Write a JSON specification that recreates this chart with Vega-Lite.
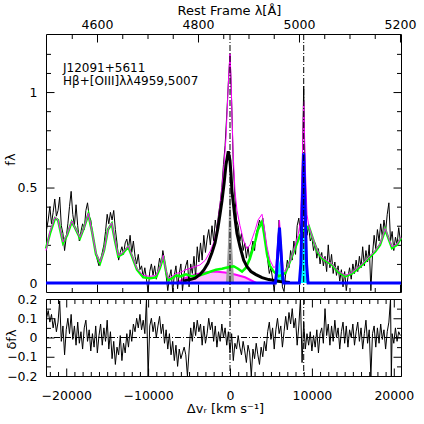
{
  "$schema": "https://vega.github.io/schema/vega-lite/v6.json",
  "background": "white",
  "padding": {"left": 3, "top": 4, "right": 0, "bottom": 0},
  "spacing": 7,
  "bounds": "flush",
  "config": {
    "view": {"stroke": "black", "strokeWidth": 1},
    "axis": {"domain": false, "grid": false, "labelFont": "DejaVu Sans", "labelFontSize": 12.5, "labelColor": "black", "titleFont": "DejaVu Sans", "titleFontSize": 13, "titleFontWeight": "normal", "titleColor": "black", "tickColor": "black", "tickWidth": 1, "tickRound": false, "labelFlush": false, "labelOverlap": false, "labelBound": false}
  },
  "datasets": {
    "spec": [
      {"v":-22400,"f":0.28},{"v":-22200,"f":0.33},{"v":-22000,"f":0.40},{"v":-21800,"f":0.31},{"v":-21600,"f":0.37},{"v":-21400,"f":0.44},{"v":-21200,"f":0.35},{"v":-21000,"f":0.38},{"v":-20800,"f":0.45},{"v":-20600,"f":0.30},{"v":-20400,"f":0.26},{"v":-20200,"f":0.17},{"v":-20000,"f":0.24},{"v":-19800,"f":0.31},{"v":-19600,"f":0.40},{"v":-19400,"f":0.48},{"v":-19200,"f":0.36},{"v":-19000,"f":0.30},{"v":-18800,"f":0.41},{"v":-18600,"f":0.30},{"v":-18400,"f":0.22},{"v":-18200,"f":0.27},{"v":-18000,"f":0.31},{"v":-17800,"f":0.28},{"v":-17600,"f":0.38},{"v":-17400,"f":0.42},{"v":-17200,"f":0.35},{"v":-17000,"f":0.33},{"v":-16800,"f":0.26},{"v":-16600,"f":0.21},{"v":-16400,"f":0.16},{"v":-16200,"f":0.12},{"v":-16000,"f":0.09},{"v":-15800,"f":0.12},{"v":-15600,"f":0.16},{"v":-15400,"f":0.20},{"v":-15200,"f":0.27},{"v":-15000,"f":0.36},{"v":-14800,"f":0.31},{"v":-14600,"f":0.37},{"v":-14400,"f":0.33},{"v":-14200,"f":0.38},{"v":-14000,"f":0.28},{"v":-13800,"f":0.21},{"v":-13600,"f":0.12},{"v":-13400,"f":0.16},{"v":-13200,"f":0.19},{"v":-13000,"f":0.15},{"v":-12800,"f":0.21},{"v":-12600,"f":0.23},{"v":-12400,"f":0.18},{"v":-12200,"f":0.25},{"v":-12000,"f":0.16},{"v":-11800,"f":0.22},{"v":-11600,"f":0.14},{"v":-11400,"f":0.10},{"v":-11200,"f":0.15},{"v":-11000,"f":0.07},{"v":-10800,"f":0.09},{"v":-10600,"f":0.03},{"v":-10400,"f":0.08},{"v":-10200,"f":0.02},{"v":-10000,"f":-0.046},{"v":-9800,"f":0.06},{"v":-9600,"f":0.10},{"v":-9400,"f":0.04},{"v":-9200,"f":0.09},{"v":-9000,"f":0.02},{"v":-8800,"f":0.07},{"v":-8600,"f":0.13},{"v":-8400,"f":0.09},{"v":-8200,"f":0.17},{"v":-8000,"f":0.12},{"v":-7800,"f":0.04},{"v":-7600,"f":-0.04},{"v":-7400,"f":0.03},{"v":-7200,"f":0.07},{"v":-7000,"f":-0.045},{"v":-6800,"f":0.04},{"v":-6600,"f":0.09},{"v":-6400,"f":-0.03},{"v":-6200,"f":0.05},{"v":-6000,"f":0.10},{"v":-5800,"f":-0.04},{"v":-5600,"f":0.05},{"v":-5400,"f":0.09},{"v":-5200,"f":0.12},{"v":-5000,"f":-0.02},{"v":-4800,"f":0.10},{"v":-4600,"f":0.05},{"v":-4400,"f":0.14},{"v":-4200,"f":0.03},{"v":-4000,"f":0.19},{"v":-3800,"f":0.11},{"v":-3600,"f":0.21},{"v":-3400,"f":0.12},{"v":-3200,"f":0.25},{"v":-3000,"f":0.16},{"v":-2800,"f":0.23},{"v":-2600,"f":0.28},{"v":-2400,"f":0.20},{"v":-2200,"f":0.30},{"v":-2000,"f":0.22},{"v":-1800,"f":0.33},{"v":-1600,"f":0.27},{"v":-1400,"f":0.36},{"v":-1200,"f":0.42},{"v":-1000,"f":0.50},{"v":-800,"f":0.62},{"v":-600,"f":0.72},{"v":-400,"f":0.88},{"v":-200,"f":1.05},{"v":0,"f":1.20},{"v":200,"f":0.95},{"v":400,"f":0.62},{"v":600,"f":0.45},{"v":800,"f":0.33},{"v":1000,"f":0.30},{"v":1200,"f":0.22},{"v":1400,"f":0.26},{"v":1600,"f":0.17},{"v":1800,"f":0.21},{"v":2000,"f":0.13},{"v":2200,"f":0.19},{"v":2400,"f":0.12},{"v":2600,"f":0.17},{"v":2800,"f":0.22},{"v":3000,"f":0.17},{"v":3200,"f":0.26},{"v":3400,"f":0.29},{"v":3600,"f":0.33},{"v":3800,"f":0.30},{"v":4000,"f":0.34},{"v":4200,"f":0.28},{"v":4400,"f":0.20},{"v":4600,"f":0.12},{"v":4800,"f":0.05},{"v":5000,"f":0.08},{"v":5200,"f":0.02},{"v":5400,"f":-0.04},{"v":5600,"f":0.05},{"v":5800,"f":0.18},{"v":6000,"f":0.33},{"v":6200,"f":0.15},{"v":6400,"f":-0.02},{"v":6600,"f":-0.045},{"v":6800,"f":0.05},{"v":7000,"f":0.12},{"v":7200,"f":0.08},{"v":7400,"f":0.17},{"v":7600,"f":0.12},{"v":7800,"f":0.22},{"v":8000,"f":0.15},{"v":8200,"f":0.30},{"v":8400,"f":0.34},{"v":8600,"f":0.26},{"v":8800,"f":0.55},{"v":9000,"f":1.03},{"v":9200,"f":0.42},{"v":9400,"f":0.25},{"v":9600,"f":0.30},{"v":9800,"f":0.22},{"v":10000,"f":0.24},{"v":10200,"f":0.17},{"v":10400,"f":0.21},{"v":10600,"f":0.13},{"v":10800,"f":0.18},{"v":11000,"f":0.10},{"v":11200,"f":0.16},{"v":11400,"f":0.09},{"v":11600,"f":0.14},{"v":11800,"f":0.06},{"v":12000,"f":0.20},{"v":12200,"f":0.08},{"v":12400,"f":0.15},{"v":12600,"f":0.05},{"v":12800,"f":0.11},{"v":13000,"f":0.04},{"v":13200,"f":0.09},{"v":13400,"f":0.01},{"v":13600,"f":0.07},{"v":13800,"f":-0.02},{"v":14000,"f":0.06},{"v":14200,"f":-0.04},{"v":14400,"f":0.03},{"v":14600,"f":0.08},{"v":14800,"f":0.02},{"v":15000,"f":0.10},{"v":15200,"f":0.05},{"v":15400,"f":0.12},{"v":15600,"f":0.06},{"v":15800,"f":0.14},{"v":16000,"f":0.08},{"v":16200,"f":0.19},{"v":16400,"f":0.09},{"v":16600,"f":0.17},{"v":16800,"f":0.11},{"v":17000,"f":0.20},{"v":17200,"f":-0.04},{"v":17400,"f":0.15},{"v":17600,"f":0.25},{"v":17800,"f":0.18},{"v":18000,"f":0.28},{"v":18200,"f":0.22},{"v":18400,"f":0.31},{"v":18600,"f":0.24},{"v":18800,"f":0.33},{"v":19000,"f":0.27},{"v":19200,"f":0.36},{"v":19400,"f":0.42},{"v":19600,"f":0.22},{"v":19800,"f":0.27},{"v":20000,"f":0.17},{"v":20200,"f":0.24},{"v":20400,"f":0.20},{"v":20600,"f":0.29},{"v":20800,"f":0.22}
    ],
    "green": [
      {"v":-22470,"f":0.18},{"v":-21980,"f":0.26},{"v":-21370,"f":0.34},{"v":-21000,"f":0.33},{"v":-20390,"f":0.21},{"v":-19900,"f":0.25},{"v":-19330,"f":0.32},{"v":-18930,"f":0.29},{"v":-18320,"f":0.235},{"v":-17830,"f":0.29},{"v":-17300,"f":0.36},{"v":-16850,"f":0.27},{"v":-16360,"f":0.15},{"v":-15870,"f":0.105},{"v":-15390,"f":0.17},{"v":-14900,"f":0.28},{"v":-14440,"f":0.31},{"v":-14040,"f":0.22},{"v":-13640,"f":0.14},{"v":-13190,"f":0.15},{"v":-12420,"f":0.19},{"v":-11970,"f":0.14},{"v":-11360,"f":0.07},{"v":-10590,"f":0.03},{"v":-9770,"f":0.025},{"v":-9040,"f":0.03},{"v":-8550,"f":0.08},{"v":-8140,"f":0.14},{"v":-7810,"f":0.06},{"v":-7530,"f":0.015},{"v":-7080,"f":0.025},{"v":-6590,"f":0.04},{"v":-6100,"f":0.035},{"v":-5370,"f":0.045},{"v":-4640,"f":0.035},{"v":-3660,"f":0.04},{"v":-2690,"f":0.055},{"v":-1710,"f":0.07},{"v":-980,"f":0.075},{"v":-490,"f":0.08},{"v":450,"f":0.088},{"v":980,"f":0.075},{"v":1470,"f":0.06},{"v":1950,"f":0.08},{"v":2440,"f":0.13},{"v":3090,"f":0.22},{"v":3420,"f":0.28},{"v":3910,"f":0.32},{"v":4150,"f":0.26},{"v":4520,"f":0.15},{"v":4880,"f":0.09},{"v":5340,"f":0.06},{"v":5950,"f":0.035},{"v":6750,"f":0.052},{"v":7200,"f":0.10},{"v":7780,"f":0.165},{"v":8580,"f":0.253},{"v":9160,"f":0.28},{"v":9610,"f":0.297},{"v":10220,"f":0.218},{"v":10750,"f":0.16},{"v":11230,"f":0.13},{"v":12450,"f":0.096},{"v":13190,"f":0.06},{"v":14080,"f":0.035},{"v":14900,"f":0.05},{"v":15710,"f":0.079},{"v":16240,"f":0.10},{"v":16940,"f":0.13},{"v":17740,"f":0.165},{"v":18320,"f":0.20},{"v":18960,"f":0.28},{"v":19290,"f":0.24},{"v":19780,"f":0.183},{"v":20390,"f":0.20},{"v":20880,"f":0.236}
    ],
    "total": [
      {"v":-22470,"f":0.17},{"v":-21980,"f":0.27},{"v":-21370,"f":0.345},{"v":-21000,"f":0.33},{"v":-20390,"f":0.215},{"v":-19900,"f":0.255},{"v":-19330,"f":0.325},{"v":-18930,"f":0.29},{"v":-18320,"f":0.24},{"v":-17830,"f":0.29},{"v":-17300,"f":0.365},{"v":-16850,"f":0.27},{"v":-16360,"f":0.155},{"v":-15870,"f":0.11},{"v":-15390,"f":0.17},{"v":-14900,"f":0.28},{"v":-14440,"f":0.315},{"v":-14040,"f":0.225},{"v":-13640,"f":0.145},{"v":-13190,"f":0.155},{"v":-12420,"f":0.195},{"v":-11970,"f":0.145},{"v":-11360,"f":0.075},{"v":-10590,"f":0.04},{"v":-9770,"f":0.035},{"v":-9040,"f":0.04},{"v":-8550,"f":0.085},{"v":-8140,"f":0.145},{"v":-7810,"f":0.065},{"v":-7530,"f":0.025},{"v":-7080,"f":0.035},{"v":-6590,"f":0.05},{"v":-6100,"f":0.055},{"v":-5370,"f":0.07},{"v":-4640,"f":0.08},{"v":-3660,"f":0.095},{"v":-3000,"f":0.12},{"v":-2440,"f":0.165},{"v":-2000,"f":0.21},{"v":-1710,"f":0.26},{"v":-1470,"f":0.32},{"v":-1220,"f":0.41},{"v":-980,"f":0.50},{"v":-730,"f":0.62},{"v":-490,"f":0.76},{"v":-250,"f":1.0},{"v":-120,"f":1.12},{"v":0,"f":1.2},{"v":120,"f":1.08},{"v":240,"f":0.88},{"v":400,"f":0.66},{"v":610,"f":0.48},{"v":850,"f":0.38},{"v":1220,"f":0.30},{"v":1670,"f":0.22},{"v":2080,"f":0.18},{"v":2440,"f":0.2},{"v":3090,"f":0.28},{"v":3420,"f":0.33},{"v":3910,"f":0.36},{"v":4150,"f":0.30},{"v":4520,"f":0.19},{"v":4880,"f":0.12},{"v":5340,"f":0.08},{"v":5600,"f":0.09},{"v":5800,"f":0.2},{"v":6040,"f":0.33},{"v":6250,"f":0.2},{"v":6500,"f":0.07},{"v":6750,"f":0.06},{"v":7200,"f":0.1},{"v":7780,"f":0.17},{"v":8300,"f":0.25},{"v":8600,"f":0.32},{"v":8800,"f":0.6},{"v":9000,"f":0.95},{"v":9200,"f":0.6},{"v":9400,"f":0.36},{"v":9610,"f":0.30},{"v":10220,"f":0.22},{"v":10750,"f":0.165},{"v":11230,"f":0.135},{"v":12450,"f":0.1},{"v":13190,"f":0.065},{"v":14080,"f":0.04},{"v":14900,"f":0.055},{"v":15710,"f":0.085},{"v":16240,"f":0.105},{"v":16940,"f":0.135},{"v":17740,"f":0.17},{"v":18320,"f":0.205},{"v":18960,"f":0.285},{"v":19290,"f":0.245},{"v":19780,"f":0.19},{"v":20390,"f":0.205},{"v":20880,"f":0.24}
    ],
    "broad": [
      {"v":-5740,"f":0.01},{"v":-4880,"f":0.018},{"v":-4270,"f":0.025},{"v":-3660,"f":0.045},{"v":-3170,"f":0.07},{"v":-2690,"f":0.105},{"v":-2200,"f":0.16},{"v":-1830,"f":0.21},{"v":-1470,"f":0.29},{"v":-1220,"f":0.36},{"v":-980,"f":0.43},{"v":-730,"f":0.52},{"v":-490,"f":0.62},{"v":-210,"f":0.69},{"v":0,"f":0.64},{"v":120,"f":0.57},{"v":240,"f":0.48},{"v":400,"f":0.42},{"v":610,"f":0.34},{"v":850,"f":0.26},{"v":1220,"f":0.19},{"v":1670,"f":0.12},{"v":2080,"f":0.085},{"v":2560,"f":0.06},{"v":3170,"f":0.044},{"v":3910,"f":0.028},{"v":4730,"f":0.018},{"v":6100,"f":0.008},{"v":7300,"f":0.003}
    ],
    "hump": [
      {"v":-6510,"f":0},{"v":-5500,"f":0.025},{"v":-4270,"f":0.045},{"v":-3050,"f":0.055},{"v":-1830,"f":0.06},{"v":-610,"f":0.055},{"v":610,"f":0.045},{"v":1830,"f":0.03},{"v":3260,"f":0}
    ],
    "narrow": [
      {"v":-500,"f":0},{"v":-250,"f":0.2},{"v":0,"f":0.55},{"v":250,"f":0.2},{"v":500,"f":0}
    ],
    "blue": [
      {"v":-22470,"f":0},{"v":5540,"f":0},{"v":5700,"f":0.06},{"v":5870,"f":0.18},{"v":6040,"f":0.29},{"v":6210,"f":0.18},{"v":6380,"f":0.06},{"v":6540,"f":0},{"v":8470,"f":0},{"v":8650,"f":0.1},{"v":8830,"f":0.4},{"v":9000,"f":0.68},{"v":9170,"f":0.4},{"v":9350,"f":0.1},{"v":9530,"f":0},{"v":20880,"f":0}
    ],
    "cyan": [
      {"v":5650,"f":0,"comp":"a"},{"v":5880,"f":0.07,"comp":"a"},{"v":6040,"f":0.12,"comp":"a"},{"v":6200,"f":0.07,"comp":"a"},{"v":6430,"f":0,"comp":"a"},
      {"v":8560,"f":0,"comp":"b"},{"v":8800,"f":0.15,"comp":"b"},{"v":9000,"f":0.3,"comp":"b"},{"v":9200,"f":0.15,"comp":"b"},{"v":9440,"f":0,"comp":"b"}
    ],
    "resid": [
      {"v":-22400,"d":0.10},{"v":-22200,"d":0.14},{"v":-22000,"d":0.08},{"v":-21800,"d":0.12},{"v":-21600,"d":0.05},{"v":-21400,"d":0.10},{"v":-21200,"d":0.03},{"v":-21000,"d":0.08},{"v":-20800,"d":0.19},{"v":-20600,"d":-0.02},{"v":-20400,"d":0.06},{"v":-20200,"d":-0.09},{"v":-20000,"d":0.04},{"v":-19800,"d":0.10},{"v":-19600,"d":0.02},{"v":-19400,"d":0.12},{"v":-19200,"d":-0.01},{"v":-19000,"d":0.06},{"v":-18800,"d":-0.04},{"v":-18600,"d":0.08},{"v":-18400,"d":-0.03},{"v":-18200,"d":0.03},{"v":-18000,"d":-0.06},{"v":-17800,"d":0.05},{"v":-17600,"d":0.09},{"v":-17400,"d":-0.02},{"v":-17200,"d":0.04},{"v":-17000,"d":-0.07},{"v":-16800,"d":0.02},{"v":-16600,"d":-0.05},{"v":-16400,"d":0.06},{"v":-16200,"d":-0.08},{"v":-16000,"d":0.01},{"v":-15800,"d":0.07},{"v":-15600,"d":-0.04},{"v":-15400,"d":0.05},{"v":-15200,"d":-0.02},{"v":-15000,"d":0.09},{"v":-14800,"d":-0.06},{"v":-14600,"d":0.03},{"v":-14400,"d":-0.11},{"v":-14200,"d":-0.02},{"v":-14000,"d":-0.14},{"v":-13800,"d":-0.05},{"v":-13600,"d":-0.09},{"v":-13400,"d":0.01},{"v":-13200,"d":-0.12},{"v":-13000,"d":-0.03},{"v":-12800,"d":-0.08},{"v":-12600,"d":0.02},{"v":-12400,"d":-0.05},{"v":-12200,"d":0.04},{"v":-12000,"d":-0.02},{"v":-11800,"d":0.07},{"v":-11600,"d":0.03},{"v":-11400,"d":0.10},{"v":-11200,"d":0.05},{"v":-11000,"d":0.12},{"v":-10800,"d":0.04},{"v":-10600,"d":0.09},{"v":-10400,"d":0.02},{"v":-10200,"d":0.2},{"v":-10000,"d":-0.2},{"v":-9800,"d":0.06},{"v":-9600,"d":0.10},{"v":-9400,"d":0.03},{"v":-9200,"d":0.08},{"v":-9000,"d":0.0},{"v":-8800,"d":0.06},{"v":-8600,"d":0.11},{"v":-8400,"d":0.02},{"v":-8200,"d":0.07},{"v":-8000,"d":-0.03},{"v":-7800,"d":0.04},{"v":-7600,"d":-0.06},{"v":-7400,"d":0.02},{"v":-7200,"d":-0.09},{"v":-7000,"d":-0.02},{"v":-6800,"d":-0.12},{"v":-6600,"d":-0.04},{"v":-6400,"d":-0.15},{"v":-6200,"d":-0.06},{"v":-6000,"d":-0.11},{"v":-5800,"d":-0.08},{"v":-5600,"d":-0.05},{"v":-5400,"d":-0.09},{"v":-5200,"d":-0.2},{"v":-5000,"d":-0.07},{"v":-4800,"d":0.05},{"v":-4600,"d":-0.02},{"v":-4400,"d":0.08},{"v":-4200,"d":0.01},{"v":-4000,"d":0.09},{"v":-3800,"d":0.03},{"v":-3600,"d":0.07},{"v":-3400,"d":-0.04},{"v":-3200,"d":0.06},{"v":-3000,"d":-0.03},{"v":-2800,"d":0.02},{"v":-2600,"d":0.10},{"v":-2400,"d":0.04},{"v":-2200,"d":0.08},{"v":-2000,"d":-0.02},{"v":-1800,"d":0.06},{"v":-1600,"d":-0.05},{"v":-1400,"d":0.03},{"v":-1200,"d":-0.02},{"v":-1000,"d":0.07},{"v":-800,"d":0.0},{"v":-600,"d":0.05},{"v":-400,"d":-0.04},{"v":-200,"d":0.03},{"v":0,"d":-0.08},{"v":200,"d":0.02},{"v":400,"d":-0.12},{"v":600,"d":-0.03},{"v":800,"d":-0.06},{"v":1000,"d":0.01},{"v":1200,"d":-0.05},{"v":1400,"d":-0.09},{"v":1600,"d":-0.02},{"v":1800,"d":-0.07},{"v":2000,"d":-0.13},{"v":2200,"d":-0.04},{"v":2400,"d":-0.08},{"v":2600,"d":-0.2},{"v":2800,"d":-0.06},{"v":3000,"d":-0.11},{"v":3200,"d":-0.03},{"v":3400,"d":-0.09},{"v":3600,"d":-0.14},{"v":3800,"d":-0.05},{"v":4000,"d":-0.10},{"v":4200,"d":-0.02},{"v":4400,"d":-0.07},{"v":4600,"d":0.03},{"v":4800,"d":0.08},{"v":5000,"d":-0.01},{"v":5200,"d":0.05},{"v":5400,"d":-0.06},{"v":5600,"d":0.04},{"v":5800,"d":0.10},{"v":6000,"d":0.02},{"v":6200,"d":0.06},{"v":6400,"d":-0.05},{"v":6600,"d":0.03},{"v":6800,"d":0.11},{"v":7000,"d":0.04},{"v":7200,"d":0.13},{"v":7400,"d":0.07},{"v":7600,"d":0.15},{"v":7800,"d":0.05},{"v":8000,"d":0.10},{"v":8200,"d":-0.04},{"v":8400,"d":0.06},{"v":8600,"d":0.2},{"v":8800,"d":-0.13},{"v":9000,"d":0.08},{"v":9200,"d":-0.06},{"v":9400,"d":0.02},{"v":9600,"d":-0.04},{"v":9800,"d":0.03},{"v":10000,"d":-0.07},{"v":10200,"d":0.01},{"v":10400,"d":-0.05},{"v":10600,"d":0.04},{"v":10800,"d":-0.08},{"v":11000,"d":0.02},{"v":11200,"d":0.05},{"v":11400,"d":-0.03},{"v":11600,"d":0.15},{"v":11800,"d":0.01},{"v":12000,"d":0.07},{"v":12200,"d":-0.04},{"v":12400,"d":0.06},{"v":12600,"d":-0.02},{"v":12800,"d":0.09},{"v":13000,"d":0.0},{"v":13200,"d":0.05},{"v":13400,"d":-0.06},{"v":13600,"d":0.03},{"v":13800,"d":0.08},{"v":14000,"d":-0.03},{"v":14200,"d":0.06},{"v":14400,"d":-0.05},{"v":14600,"d":0.04},{"v":14800,"d":0.0},{"v":15000,"d":0.07},{"v":15200,"d":-0.04},{"v":15400,"d":0.03},{"v":15600,"d":0.08},{"v":15800,"d":-0.02},{"v":16000,"d":0.05},{"v":16200,"d":-0.06},{"v":16400,"d":0.02},{"v":16600,"d":0.09},{"v":16800,"d":-0.03},{"v":17000,"d":0.04},{"v":17200,"d":-0.2},{"v":17400,"d":0.02},{"v":17600,"d":0.06},{"v":17800,"d":-0.05},{"v":18000,"d":0.05},{"v":18200,"d":-0.03},{"v":18400,"d":0.07},{"v":18600,"d":-0.01},{"v":18800,"d":0.04},{"v":19000,"d":-0.06},{"v":19200,"d":0.03},{"v":19400,"d":0.08},{"v":19600,"d":0.2},{"v":19700,"d":-0.2},{"v":19800,"d":0.02},{"v":20000,"d":-0.03},{"v":20200,"d":0.05},{"v":20400,"d":-0.02},{"v":20600,"d":0.03},{"v":20800,"d":0.01}
    ]
  },
  "vconcat": [
    {
      "width": 355,
      "height": 258,
      "layer": [
        {
          "layer": [
            {"data": {"name": "hump"}, "mark": {"type": "area", "color": "#ff66ff", "opacity": 0.45},
              "encoding": {"x": {"field": "v", "type": "quantitative", "scale": {"domain": [-22470, 20880], "nice": false, "zero": false}, "axis": null},
                "y": {"field": "f", "type": "quantitative", "scale": {"domain": [-0.047, 1.304], "nice": false, "zero": false}, "axis": null},
                "y2": {"datum": 0}}},
            {"data": {"name": "hump"}, "mark": {"type": "line", "color": "#ff00ff", "strokeWidth": 2}, "encoding": {"x": {"field": "v", "type": "quantitative", "axis": null}, "y": {"field": "f", "type": "quantitative", "axis": null}}},
            {"data": {"name": "narrow"}, "mark": {"type": "area", "color": "#a0a0a0"}, "encoding": {"x": {"field": "v", "type": "quantitative", "axis": null}, "y": {"field": "f", "type": "quantitative", "axis": null}, "y2": {"datum": 0}}},
            {"data": {"name": "cyan"}, "mark": {"type": "area", "color": "#00ffff"}, "encoding": {"x": {"field": "v", "type": "quantitative", "axis": null}, "y": {"field": "f", "type": "quantitative", "axis": null}, "y2": {"datum": 0}, "detail": {"field": "comp"}}},
            {"data": {"name": "spec"}, "mark": {"type": "line", "color": "black", "strokeWidth": 1, "clip": true}, "encoding": {"x": {"field": "v", "type": "quantitative", "axis": null}, "y": {"field": "f", "type": "quantitative", "axis": null}}},
            {"data": {"name": "green"}, "mark": {"type": "line", "color": "#00ff00", "strokeWidth": 2.5}, "encoding": {"x": {"field": "v", "type": "quantitative", "axis": null}, "y": {"field": "f", "type": "quantitative", "axis": null}}},
            {"data": {"name": "total"}, "mark": {"type": "line", "color": "#ff00ff", "strokeWidth": 1}, "encoding": {"x": {"field": "v", "type": "quantitative", "axis": null}, "y": {"field": "f", "type": "quantitative", "axis": null}}},
            {"data": {"name": "broad"}, "mark": {"type": "line", "color": "black", "strokeWidth": 3}, "encoding": {"x": {"field": "v", "type": "quantitative", "axis": null}, "y": {"field": "f", "type": "quantitative", "axis": null}}},
            {"data": {"name": "blue"}, "mark": {"type": "line", "color": "#0000ff", "strokeWidth": 3}, "encoding": {"x": {"field": "v", "type": "quantitative", "axis": null}, "y": {"field": "f", "type": "quantitative", "axis": null}}},
            {"data": {"values": [{"v": 0}, {"v": 9000}]}, "mark": {"type": "rule", "color": "black", "strokeWidth": 1, "strokeDash": [6, 2, 1, 2]}, "encoding": {"x": {"field": "v", "type": "quantitative", "axis": null}}},
            {"data": {"values": [{"t": "J12091+5611"}]}, "mark": {"type": "text", "align": "left", "baseline": "alphabetic", "font": "DejaVu Sans", "fontSize": 12, "color": "black"}, "encoding": {"x": {"datum": -20390, "type": "quantitative", "axis": null}, "y": {"datum": 1.107, "type": "quantitative", "axis": null}, "text": {"field": "t"}}},
            {"data": {"values": [{"t": "Hβ+[OIII]λλ4959,5007"}]}, "mark": {"type": "text", "align": "left", "baseline": "alphabetic", "font": "DejaVu Sans", "fontSize": 12, "color": "black"}, "encoding": {"x": {"datum": -20390, "type": "quantitative", "axis": null}, "y": {"datum": 1.039, "type": "quantitative", "axis": null}, "text": {"field": "t"}}}
          ]
        },
        {
          "data": {"values": [{"w": 4700, "g": 0.5}]},
          "mark": {"type": "point", "opacity": 0},
          "encoding": {
            "x": {"field": "w", "type": "quantitative", "scale": {"domain": [4499, 5202], "nice": false, "zero": false},
              "axis": {"orient": "top", "values": [4550, 4600, 4650, 4700, 4750, 4800, 4850, 4900, 4950, 5000, 5050, 5100, 5150, 5200],
                "labelExpr": "datum.value % 200 == 0 ? '' + datum.value : ''",
                "tickSize": {"condition": {"test": "datum.value % 200 == 0", "value": -8}, "value": -4.5},
                "labelOverlap": false,
                "labelPadding": 10.5, "title": "Rest Frame λ[Å]", "titleX": 183, "titleY": -19.5, "titleBaseline": "alphabetic"}},
            "y": {"field": "g", "type": "quantitative", "scale": {"domain": [-0.047, 1.304], "nice": false, "zero": false},
              "axis": {"orient": "left", "values": [0, 0.1, 0.2, 0.3, 0.4, 0.5, 0.6, 0.7, 0.8, 0.9, 1, 1.1, 1.2],
                "labelExpr": "datum.value == 0 ? '0' : datum.value == 0.5 ? '0.5' : datum.value == 1 ? '1' : ''",
                "tickSize": {"condition": {"test": "datum.value == 0 || datum.value == 0.5 || datum.value == 1", "value": -8}, "value": -4.5},
                "labelOverlap": false,
                "labelPadding": 17, "title": "fλ", "titleX": -32, "titleY": 125, "titleBaseline": "alphabetic", "titleAlign": "center"}}
          }
        },
        {
          "data": {"values": [{"w": 4700, "g": 0.5}]},
          "mark": {"type": "point", "opacity": 0},
          "encoding": {
            "x": {"field": "w", "type": "quantitative", "scale": {"domain": [4499, 5202], "nice": false, "zero": false},
              "axis": {"orient": "bottom", "values": [4550, 4600, 4650, 4700, 4750, 4800, 4850, 4900, 4950, 5000, 5050, 5100, 5150, 5200], "labels": false,
                "tickSize": {"condition": {"test": "datum.value % 200 == 0", "value": -8}, "value": -4.5}, "title": null}},
            "y": {"field": "g", "type": "quantitative", "scale": {"domain": [-0.047, 1.304], "nice": false, "zero": false},
              "axis": {"orient": "right", "values": [0, 0.1, 0.2, 0.3, 0.4, 0.5, 0.6, 0.7, 0.8, 0.9, 1, 1.1, 1.2], "labels": false,
                "tickSize": {"condition": {"test": "datum.value == 0 || datum.value == 0.5 || datum.value == 1", "value": -8}, "value": -4.5}, "title": null}}
          }
        }
      ],
      "resolve": {"scale": {"x": "independent", "y": "independent"}}
    },
    {
      "width": 355,
      "height": 77,
      "layer": [
        {
          "data": {"name": "resid"},
          "mark": {"type": "line", "color": "black", "strokeWidth": 1, "clip": true},
          "encoding": {
            "x": {"field": "v", "type": "quantitative", "scale": {"domain": [-22470, 20880], "nice": false, "zero": false},
              "axis": {"orient": "bottom", "values": [-22000,-21000,-20000,-19000,-18000,-17000,-16000,-15000,-14000,-13000,-12000,-11000,-10000,-9000,-8000,-7000,-6000,-5000,-4000,-3000,-2000,-1000,0,1000,2000,3000,4000,5000,6000,7000,8000,9000,10000,11000,12000,13000,14000,15000,16000,17000,18000,19000,20000],
                "labelExpr": "datum.value % 10000 == 0 ? (datum.value < 0 ? '−' + abs(datum.value) : '' + datum.value) : ''",
                "tickSize": {"condition": {"test": "datum.value % 10000 == 0", "value": -8}, "value": -4.5},
                "labelOverlap": false,
                "labelPadding": 21, "title": "Δvᵣ [km s⁻¹]", "titleX": 179, "titleY": 36.5, "titleBaseline": "alphabetic"}},
            "y": {"field": "d", "type": "quantitative", "scale": {"domain": [-0.2, 0.2], "nice": false, "zero": false},
              "axis": {"orient": "left", "values": [-0.2, -0.15, -0.1, -0.05, 0, 0.05, 0.1, 0.15, 0.2],
                "labelExpr": "datum.value == 0.2 ? '0.2' : datum.value == 0.1 ? '0.1' : datum.value == 0 ? '0' : datum.value == -0.1 ? '−0.1' : datum.value == -0.2 ? '−0.2' : ''",
                "tickSize": {"condition": {"test": "datum.value == 0.2 || datum.value == 0.1 || datum.value == 0 || datum.value == -0.1 || datum.value == -0.2", "value": -8}, "value": -4.5},
                "labelOverlap": false,
                "labelPadding": 17, "title": "δfλ", "titleX": -31, "titleY": 40, "titleBaseline": "alphabetic", "titleAlign": "center"}}
          }
        },
        {
          "layer": [
            {
              "data": {"values": [{"w": 0, "g": 0}]},
              "mark": {"type": "rule", "color": "black", "strokeWidth": 1, "strokeDash": [6, 2, 1, 2]},
              "encoding": {
                "y": {"field": "g", "type": "quantitative", "scale": {"domain": [-0.2, 0.2], "nice": false, "zero": false},
                  "axis": {"orient": "right", "values": [-0.2, -0.15, -0.1, -0.05, 0, 0.05, 0.1, 0.15, 0.2], "labels": false,
                    "tickSize": {"condition": {"test": "datum.value == 0.2 || datum.value == 0.1 || datum.value == 0 || datum.value == -0.1 || datum.value == -0.2", "value": -8}, "value": -4.5}, "title": null}}
              }
            },
            {
              "data": {"values": [{"w": 0}, {"w": 9000}]},
              "mark": {"type": "rule", "color": "black", "strokeWidth": 1, "strokeDash": [6, 2, 1, 2]},
              "encoding": {
                "x": {"field": "w", "type": "quantitative", "scale": {"domain": [-22470, 20880], "nice": false, "zero": false},
                  "axis": {"orient": "top", "values": [-22000,-21000,-20000,-19000,-18000,-17000,-16000,-15000,-14000,-13000,-12000,-11000,-10000,-9000,-8000,-7000,-6000,-5000,-4000,-3000,-2000,-1000,0,1000,2000,3000,4000,5000,6000,7000,8000,9000,10000,11000,12000,13000,14000,15000,16000,17000,18000,19000,20000], "labels": false,
                    "tickSize": {"condition": {"test": "datum.value % 10000 == 0", "value": -8}, "value": -4.5}, "title": null}}
              }
            }
          ]
        }
      ],
      "resolve": {"scale": {"x": "independent", "y": "independent"}}
    }
  ]
}
